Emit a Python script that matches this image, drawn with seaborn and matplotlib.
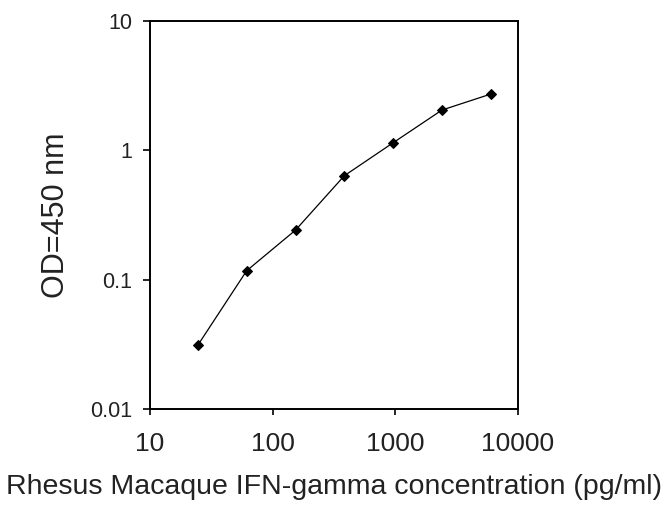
import matplotlib
matplotlib.use("Agg")
import matplotlib.pyplot as plt
import matplotlib.ticker as mticker
import seaborn as sns
import pandas as pd

# standard curve values
concentration = [24.6, 61.4, 153.6, 384, 960, 2400, 6000]
od_450 = [0.0312, 0.117, 0.241, 0.634, 1.14, 2.04, 2.71]
x_ticks = [10, 100, 1000, 10000]
y_ticks = [0.01, 0.1, 1, 10]
y_tick_labels = ["0.01", "0.1", "1", "10"]

data = pd.DataFrame({"conc": concentration, "od": od_450})

sns.set_style("white")
plt.rcParams["font.family"] = ["Liberation Sans", "DejaVu Sans"]

fig = plt.figure(figsize=(6.64, 5.25), dpi=100)
ax = fig.add_axes([0.2259, 0.221, 0.5542, 0.7396])

sns.lineplot(
    data=data, x="conc", y="od", ax=ax,
    color="black", linewidth=0.9,
    marker="D", markersize=5.5, markeredgecolor="black", markerfacecolor="black",
)

ax.set_xscale("log")
ax.set_yscale("log")
ax.set_xlim(10, 10000)
ax.set_ylim(0.01, 10)

ax.xaxis.set_major_locator(mticker.FixedLocator(x_ticks))
ax.xaxis.set_major_formatter(mticker.FixedFormatter([str(v) for v in x_ticks]))
ax.yaxis.set_major_locator(mticker.FixedLocator(y_ticks))
ax.yaxis.set_major_formatter(mticker.FixedFormatter(y_tick_labels))
ax.xaxis.set_minor_locator(mticker.NullLocator())
ax.yaxis.set_minor_locator(mticker.NullLocator())

ax.tick_params(axis="x", direction="out", length=4.5, width=1.2, pad=12,
               labelsize=19, colors="black", labelcolor="#222222", bottom=True)
ax.tick_params(axis="y", direction="out", length=5, width=1.2, pad=8,
               labelsize=15.5, colors="black", labelcolor="#222222", left=True)

for side in ["left", "right", "top", "bottom"]:
    ax.spines[side].set_visible(True)
    ax.spines[side].set_color("black")
    ax.spines[side].set_linewidth(1.4)

ax.set_xlabel("Rhesus Macaque IFN-gamma concentration (pg/ml)", fontsize=20.5,
              labelpad=13, color="#222222")
ax.set_ylabel("OD=450 nm", fontsize=22, labelpad=13.5, color="#222222")

fig.savefig("out.png", dpi=100)
